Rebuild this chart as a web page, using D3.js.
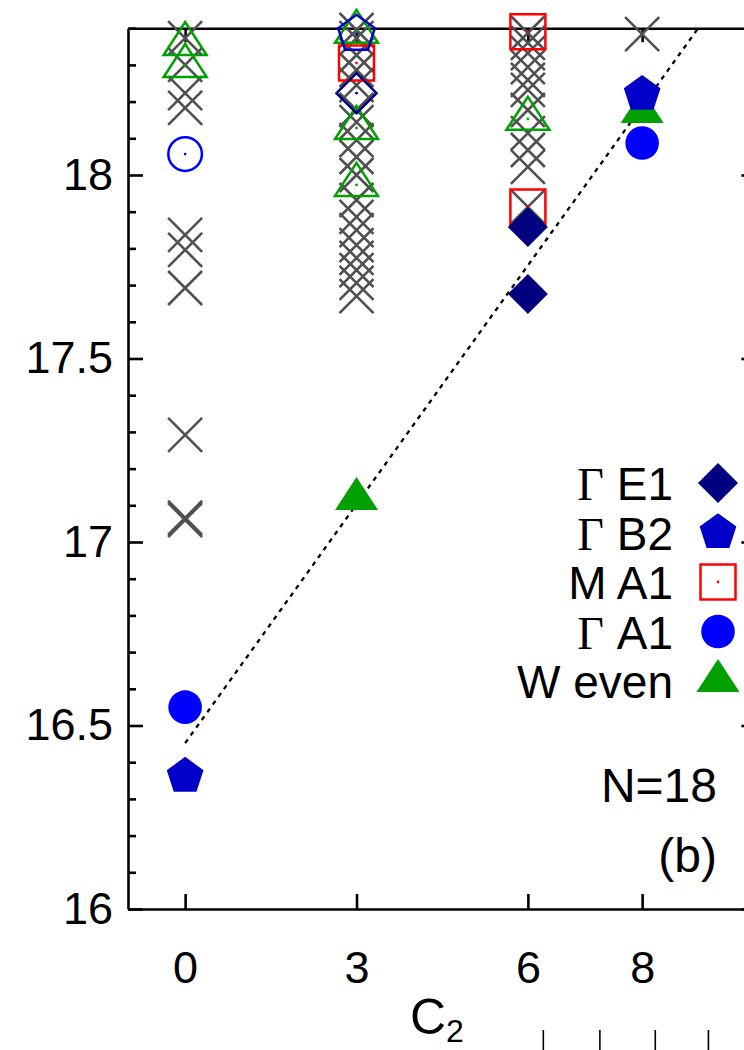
<!DOCTYPE html>
<html>
<head>
<meta charset="utf-8">
<script src="https://cdn.jsdelivr.net/npm/d3@7"></script>
<style>
  body { margin: 0; background: #fff; }
  svg { display: block; }
  text { font-family: "Liberation Sans", Arial, Helvetica, sans-serif; fill: #000; }
</style>
</head>
<body>
<svg id="chart" width="744" height="1050"></svg>
<script>
// ---- data -------------------------------------------------------------
const c2Ticks = [0, 3, 6, 8];
const energyTicks = [16, 16.5, 17, 17.5, 18];
const energyMinorTicks = d3.range(160, 185).map(v => v / 10).filter(v => !energyTicks.includes(v));

// all remaining levels, drawn as grey crosses, one list per C2 value
const crossC2 = [0, 3, 6, 8];
const crossLevels = [
  [18.373, 18.300, 18.223, 18.183, 17.837, 17.796, 17.692, 17.292, 17.060, 17.066],
  [18.395, 18.373, 18.327, 18.286, 18.245, 18.177, 18.144, 18.095, 18.049, 18.000,
   17.932, 17.886, 17.850, 17.809, 17.774, 17.741, 17.706, 17.670],
  [18.387, 18.360, 18.332, 18.294, 18.259, 18.232, 18.177, 18.114, 18.068, 18.022, 17.913],
  [18.384]
];

// labelled symmetry sectors (filled symbols)
const gammaE1 = [[6, 17.858], [6, 17.676]];
const gammaB2 = [[0, 16.362], [8, 18.220]];
const mA1     = [[3, 18.305], [6, 18.390], [6, 17.913]];
const gammaA1 = [[0, 16.550], [8, 18.087]];
const wEven   = [[3, 17.117], [8, 18.172]];

// higher levels of the same sectors (open symbols)
const gammaE1Open = [[3, 18.223]];
const gammaB2Open = [[3, 18.384]];
const gammaA1Open = [[0, 18.057]];
const wEvenOpen   = [[0, 18.357], [0, 18.297], [3, 18.390], [3, 18.128], [3, 17.973], [6, 18.153]];

// linear guide through the lowest levels
const guideLine = [[0, 16.452], [8.98, 18.40]];

// ticks of the panel below
const lowerPanelTicks = [6.27, 7.26, 8.23, 9.16];

const legendRows = [
  { greek: "\u0393", name: " E1", shape: "diamond", color: "#000080", filled: true },
  { greek: "\u0393", name: " B2", shape: "pentagon", color: "#0000c8", filled: true },
  { greek: "", name: "M A1", shape: "square", color: "#ff0000", filled: false },
  { greek: "\u0393", name: " A1", shape: "circle", color: "#0000ff", filled: true },
  { greek: "", name: "W even", shape: "triangle", color: "#00a000", filled: true }
];

// ---- scales -----------------------------------------------------------
const x = d3.scaleLinear().domain([-1, 10]).range([128, 756.4]);
const y = d3.scaleLinear().domain([16, 18.4]).range([909, 28.2]);

const svg = d3.select("#chart");
const axisW = 2.6;
const symbolW = 2.5;

// ---- symbol shapes ----------------------------------------------------
function pentagonPath(r) {
  const pts = d3.range(5).map(i => {
    const a = -Math.PI / 2 + i * 2 * Math.PI / 5;
    return [r * Math.cos(a), r * Math.sin(a)];
  });
  return "M" + pts.map(p => p.join(",")).join("L") + "Z";
}
const shapes = {
  diamond: "M0,-20L20,0L0,20L-20,0Z",
  pentagon: pentagonPath(19.3),
  square: "M-17.5,-17.5H17.5V17.5H-17.5Z",
  circle: d3.arc()({ innerRadius: 0, outerRadius: 16.8, startAngle: 0, endAngle: 2 * Math.PI }),
  triangle: "M0,-22L21.5,11L-21.5,11Z",
  cross: "M-17,-17L17,17M-17,17L17,-17"
};

function drawSymbols(data, shape, color, filled) {
  const g = svg.append("g");
  const s = g.selectAll("g").data(data).join("g")
    .attr("transform", d => `translate(${x(d[0])},${y(d[1])})`);
  s.append("path")
    .attr("d", shapes[shape])
    .attr("fill", filled ? color : "none")
    .attr("stroke", filled ? "none" : color)
    .attr("stroke-width", symbolW);
  if (!filled) {
    s.append("circle").attr("r", 1.4).attr("fill", color);
  }
}

// ---- axes / frame -----------------------------------------------------
function styleAxis(g) {
  g.selectAll(".domain").attr("stroke", "#000").attr("stroke-width", axisW);
  g.selectAll(".tick line").attr("stroke", "#000").attr("stroke-width", axisW);
  g.selectAll("text").attr("font-size", 45).attr("fill", "#000")
    .attr("font-family", '"Liberation Sans", Arial, Helvetica, sans-serif');
}

// minor ticks (left only)
svg.append("g").attr("transform", `translate(${x(-1)},0)`)
  .call(d3.axisLeft(y).tickValues(energyMinorTicks).tickSize(-8).tickSizeOuter(0).tickFormat(""))
  .call(styleAxis)
  .call(g => g.select(".domain").remove());

// left axis with labels
svg.append("g").attr("transform", `translate(${x(-1)},0)`)
  .call(d3.axisLeft(y).tickValues(energyTicks).tickSize(-15).tickSizeOuter(0)
    .tickPadding(15).tickFormat(d3.format("")))
  .call(styleAxis);

// right axis (mirror)
svg.append("g").attr("transform", `translate(${x(10)},0)`)
  .call(d3.axisRight(y).tickValues(energyTicks).tickSize(-15).tickSizeOuter(0).tickFormat(""))
  .call(styleAxis);

// bottom axis with labels
svg.append("g").attr("transform", `translate(0,${y(16)})`)
  .call(d3.axisBottom(x).tickValues(c2Ticks).tickSize(-15).tickSizeOuter(0).tickPadding(42))
  .call(styleAxis);

// top axis (mirror)
svg.append("g").attr("transform", `translate(0,${y(18.4)})`)
  .call(d3.axisTop(x).tickValues(c2Ticks).tickSize(-14).tickSizeOuter(0).tickFormat(""))
  .call(styleAxis);

// axis title C_2
const xTitle = svg.append("text").attr("x", 410).attr("y", 1034).attr("font-size", 50);
xTitle.append("tspan").text("C");
xTitle.append("tspan").attr("font-size", 32).attr("dy", 8).text("2");

// ---- guide line -------------------------------------------------------
svg.append("path")
  .datum(guideLine)
  .attr("d", d3.line().x(d => x(d[0])).y(d => y(d[1])))
  .attr("fill", "none")
  .attr("stroke", "#000")
  .attr("stroke-width", 2.3)
  .attr("stroke-dasharray", "4.5,5");

// ---- levels -----------------------------------------------------------
const crossData = crossC2.flatMap((c, i) => crossLevels[i].map(e => [c, e]));
svg.append("g").selectAll("path").data(crossData).join("path")
  .attr("transform", d => `translate(${x(d[0])},${y(d[1])})`)
  .attr("d", shapes.cross)
  .attr("fill", "none")
  .attr("stroke", "#505050")
  .attr("stroke-width", 2.6);

drawSymbols(wEvenOpen, "triangle", "#00a000", false);
drawSymbols(mA1, "square", "#ff0000", false);
drawSymbols(gammaA1Open, "circle", "#0000ff", false);
drawSymbols(gammaE1Open, "diamond", "#000080", false);
drawSymbols(gammaB2Open, "pentagon", "#0000c8", false);

drawSymbols(wEven, "triangle", "#00a000", true);
drawSymbols(gammaA1, "circle", "#0000ff", true);
drawSymbols(gammaE1, "diamond", "#000080", true);
drawSymbols(gammaB2, "pentagon", "#0000c8", true);

// ---- legend -----------------------------------------------------------
const legend = svg.append("g");
const rowY = d3.scaleLinear().domain([0, 4]).range([483, 681]);
legendRows.forEach((r, i) => {
  const t = legend.append("text")
    .attr("x", 673).attr("y", rowY(i) + 17)
    .attr("text-anchor", "end").attr("font-size", 46);
  if (r.greek) {
    t.append("tspan").attr("font-family", '"Liberation Serif", "DejaVu Serif", serif').text(r.greek);
  }
  t.append("tspan").attr("xml:space", "preserve").style("white-space", "pre").text(r.name);
  const m = legend.append("g").attr("transform", `translate(718,${rowY(i)})`);
  m.append("path").attr("d", shapes[r.shape])
    .attr("fill", r.filled ? r.color : "none")
    .attr("stroke", r.filled ? "none" : r.color)
    .attr("stroke-width", symbolW);
  if (!r.filled) m.append("circle").attr("r", 1.4).attr("fill", r.color);
});

// ---- annotations ------------------------------------------------------
svg.append("text").attr("x", 717).attr("y", 802).attr("text-anchor", "end")
  .attr("font-size", 48).text("N=18");
svg.append("text").attr("x", 717).attr("y", 872).attr("text-anchor", "end")
  .attr("font-size", 48).text("(b)");

// top ticks of the panel below
svg.append("g").selectAll("line").data(lowerPanelTicks).join("line")
  .attr("x1", d => x(d)).attr("x2", d => x(d))
  .attr("y1", 1030).attr("y2", 1050)
  .attr("stroke", "#000").attr("stroke-width", 1.6);
</script>
</body>
</html>
